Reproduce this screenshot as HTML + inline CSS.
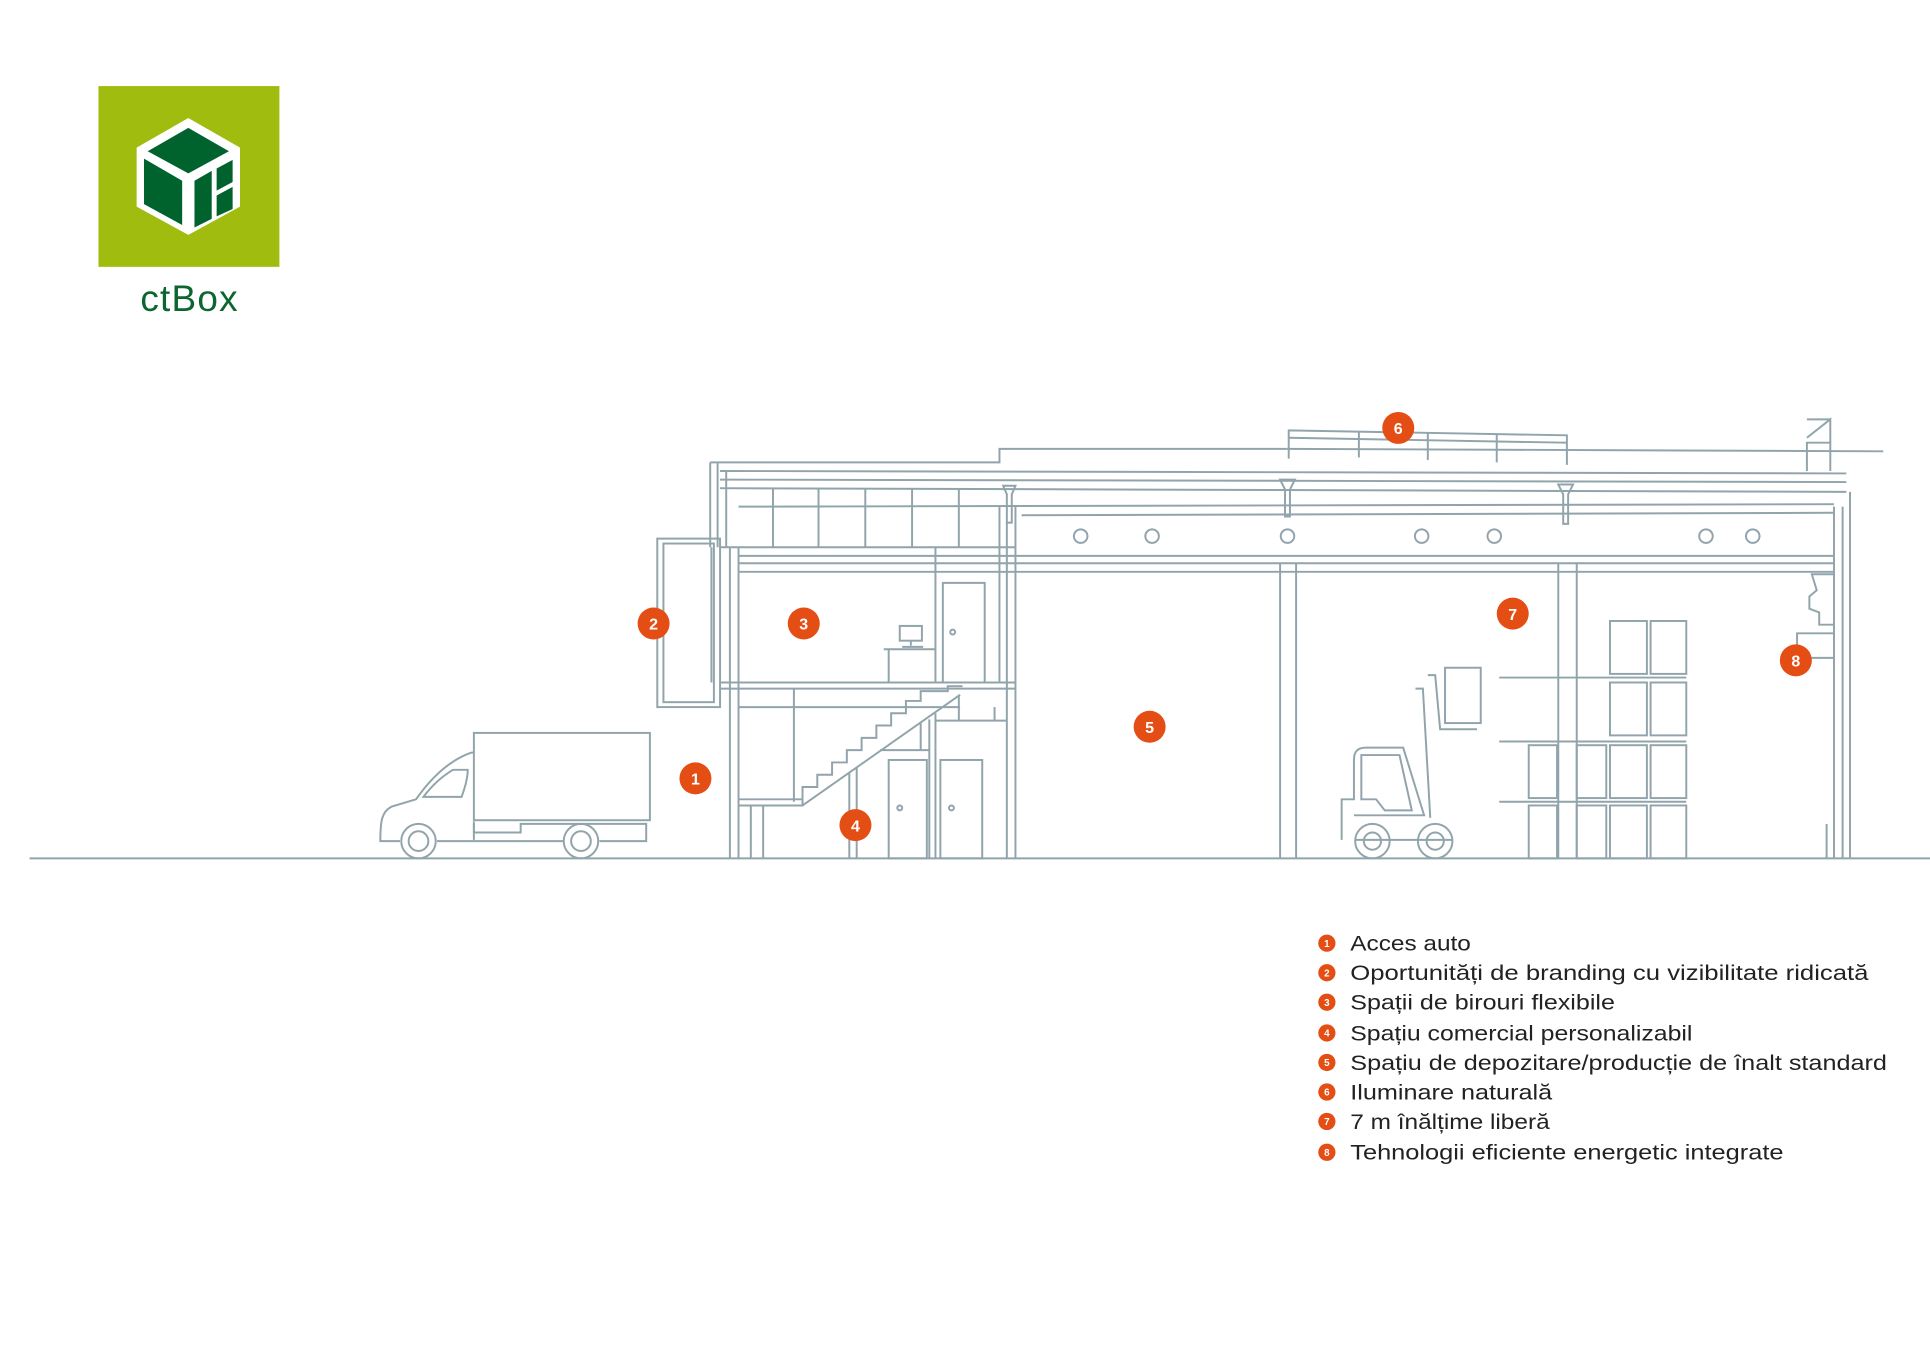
<!DOCTYPE html>
<html><head><meta charset="utf-8"><style>
html,body{margin:0;padding:0;background:#fff;}
svg{display:block;}
</style></head><body>
<svg width="1930" height="1349" viewBox="0 0 1568 1097" preserveAspectRatio="none" xmlns="http://www.w3.org/2000/svg">
<rect width="1568" height="1097" fill="#fff"/>
<!-- logo -->
<rect x="80" y="70" width="147" height="147" fill="#9fbc0f"/>
<polygon points="153,96 195,120 195,168 153,191 111,168 111,120" fill="#fff"/>
<polygon points="153,104 186,123 153,141 120,123" fill="#00632e"/>
<polygon points="117,129 148,147 148,183 117,166" fill="#00632e"/>
<polygon points="158,147 172,139 172,178 158,185" fill="#00632e"/>
<polygon points="176,137 189,130 189,148 176,155" fill="#00632e"/>
<polygon points="176,159 189,152 189,170 176,176" fill="#00632e"/>
<text x="154" y="253" font-family="Liberation Sans, sans-serif" font-size="30" fill="#0d6630" text-anchor="middle" letter-spacing="1">ctBox</text>

<g fill="none" stroke="#91a4ab" stroke-width="1.6">
<!-- ground -->
<line x1="24" y1="698" x2="1568" y2="698"/>
<!-- roof -->
<polyline points="577,376 812,376 812,365 1045,365"/>
<line x1="1045" y1="365" x2="1530" y2="367"/>
<polyline points="1047,373 1047,350 1273,354 1273,378"/>
<line x1="1047" y1="356" x2="1273" y2="360"/>
<line x1="1104" y1="351" x2="1104" y2="372"/><line x1="1160" y1="352" x2="1160" y2="374"/><line x1="1216" y1="353" x2="1216" y2="376"/>
<line x1="585" y1="383" x2="1500" y2="385"/>
<line x1="585" y1="390" x2="1500" y2="392"/>
<line x1="585" y1="397" x2="1500" y2="400"/>
<line x1="600" y1="412" x2="1490" y2="410"/>
<line x1="830" y1="419" x2="1490" y2="417"/>
<line x1="577" y1="376" x2="577" y2="445"/><line x1="583" y1="376" x2="583" y2="445"/>
<line x1="590" y1="383" x2="590" y2="445"/>
<!-- purlins office -->
<line x1="628" y1="397" x2="628" y2="445"/><line x1="665" y1="397" x2="665" y2="445"/><line x1="703" y1="397" x2="703" y2="445"/><line x1="741" y1="397" x2="741" y2="445"/><line x1="779" y1="397" x2="779" y2="445"/>
<!-- hangers -->
<path d="M815,395 L825,395 L822,402 L822,425 L818,425 L818,402 Z"/>
<path d="M1040,390 L1052,390 L1048,398 L1048,420 L1044,420 L1044,398 Z"/>
<path d="M1266,394 L1278,394 L1274,402 L1274,426 L1270,426 L1270,402 Z"/>
<!-- ceiling beams -->
<line x1="585" y1="445" x2="825" y2="445"/>
<line x1="600" y1="452" x2="1490" y2="452"/>
<line x1="600" y1="458" x2="1490" y2="458"/>
<line x1="600" y1="465" x2="1490" y2="465"/>
<!-- skylight circles -->
<circle cx="878" cy="436" r="5.5"/><circle cx="936" cy="436" r="5.5"/><circle cx="1046" cy="436" r="5.5"/><circle cx="1155" cy="436" r="5.5"/><circle cx="1214" cy="436" r="5.5"/><circle cx="1386" cy="436" r="5.5"/><circle cx="1424" cy="436" r="5.5"/>
<!-- chimney -->
<polyline points="1468,383 1468,360 1487,360 1487,383"/>
<polyline points="1468,356 1487,341 1487,360"/>
<line x1="1468" y1="341" x2="1487" y2="341"/>
<!-- columns -->
<line x1="593" y1="445" x2="593" y2="698"/><line x1="600" y1="445" x2="600" y2="698"/>
<line x1="812" y1="412" x2="812" y2="555"/><line x1="818" y1="425" x2="818" y2="698"/><line x1="825" y1="412" x2="825" y2="698"/>
<line x1="1040" y1="458" x2="1040" y2="698"/><line x1="1053" y1="458" x2="1053" y2="698"/>
<line x1="1266" y1="458" x2="1266" y2="698"/><line x1="1281" y1="458" x2="1281" y2="698"/>
<line x1="1490" y1="412" x2="1490" y2="698"/><line x1="1497" y1="412" x2="1497" y2="698"/><line x1="1503" y1="400" x2="1503" y2="698"/>
<line x1="1484" y1="670" x2="1484" y2="698"/>
<!-- branding panel -->
<rect x="534" y="438" width="51" height="137"/>
<rect x="539" y="442" width="41" height="129"/>
<line x1="578" y1="445" x2="578" y2="555"/>
<!-- mezzanine -->
<line x1="585" y1="555" x2="825" y2="555"/>
<line x1="585" y1="560" x2="825" y2="560"/>
<line x1="600" y1="575" x2="780" y2="575"/>
<line x1="645" y1="560" x2="645" y2="652"/>
<line x1="760" y1="445" x2="760" y2="555"/>
<!-- door office -->
<rect x="766" y="474" width="34" height="81"/>
<circle cx="774" cy="514" r="2"/>
<!-- desk -->
<rect x="731" y="509" width="18" height="12"/>
<line x1="740" y1="521" x2="740" y2="525"/>
<line x1="733" y1="526" x2="750" y2="526"/>
<polyline points="718,528 760,528"/>
<line x1="722" y1="528" x2="722" y2="555"/>
<!-- stairs -->
<polyline points="600,650 652,650 652,655 600,655"/>
<line x1="652" y1="655" x2="780" y2="565"/>
<polyline points="652,650 652,640 664,640 664,630 676,630 676,620 688,620 688,610 700,610 700,600 712,600 712,590 724,590 724,580 736,580 736,570 748,570 748,562 770,562 770,558 782,558"/>
<line x1="610" y1="655" x2="610" y2="698"/><line x1="620" y1="655" x2="620" y2="698"/>
<!-- lower rooms -->
<line x1="690" y1="628" x2="690" y2="698"/><line x1="696" y1="624" x2="696" y2="698"/>
<line x1="755" y1="585" x2="755" y2="698"/><line x1="760" y1="580" x2="760" y2="698"/>
<line x1="715" y1="610" x2="755" y2="610"/>
<line x1="760" y1="586" x2="818" y2="586"/>
<line x1="748" y1="588" x2="748" y2="610"/>
<line x1="779" y1="565" x2="779" y2="586"/><line x1="808" y1="575" x2="808" y2="586"/>
<rect x="722" y="618" width="31" height="80"/><circle cx="731" cy="657" r="2"/>
<rect x="764" y="618" width="34" height="80"/><circle cx="773" cy="657" r="2"/>
<!-- HVAC right -->
<polyline points="1490,467 1472,467 1476,480 1470,485 1470,495 1478,498 1478,508 1490,508"/>
<polyline points="1490,515 1460,515 1460,535 1490,535"/>
<!-- truck -->
<rect x="385" y="596" width="143" height="71"/>
<path d="M385,612 L383,612 C360,620 345,640 338,650 L318,656 C310,660 309,668 309,684 L325,684 M355,684 L458,684 M487,684 L525,684 L525,670 L423,670 L423,677 L385,677 L385,668"/>
<path d="M380,626 L368,626 C358,632 350,640 344,648 L375,648 C378,640 380,632 380,626 Z"/>
<line x1="385" y1="683" x2="385" y2="670"/>
<circle cx="340" cy="684" r="14"/><circle cx="340" cy="684" r="8"/>
<circle cx="472" cy="684" r="14"/><circle cx="472" cy="684" r="8"/>
<!-- forklift -->
<path d="M1090,683 L1090,650 L1100,650 L1100,618 C1100,611 1103,608 1110,608 L1140,608 L1157,663 L1100,663"/>
<path d="M1106,614 L1137,614 L1147,659 L1125,659 L1118,650 L1106,650 Z"/>
<line x1="1101" y1="683" x2="1180" y2="683"/>
<polyline points="1150,560 1156,560 1162,665"/>
<polyline points="1160,549 1166,549 1170,593 1200,593"/>
<rect x="1174" y="543" width="29" height="45"/>
<circle cx="1115" cy="684" r="14"/><circle cx="1115" cy="684" r="7"/>
<circle cx="1166" cy="684" r="14"/><circle cx="1166" cy="684" r="7"/>
<!-- racks -->
<line x1="1218" y1="551" x2="1370" y2="551"/>
<line x1="1218" y1="603" x2="1370" y2="603"/>
<line x1="1218" y1="652" x2="1370" y2="652"/>
<rect x="1308" y="505" width="30" height="43"/><rect x="1341" y="505" width="29" height="43"/>
<rect x="1308" y="555" width="30" height="43"/><rect x="1341" y="555" width="29" height="43"/>
<rect x="1242" y="606" width="23" height="43"/><rect x="1281" y="606" width="24" height="43"/><rect x="1308" y="606" width="30" height="43"/><rect x="1341" y="606" width="29" height="43"/>
<rect x="1242" y="655" width="23" height="43"/><rect x="1281" y="655" width="24" height="43"/><rect x="1308" y="655" width="30" height="43"/><rect x="1341" y="655" width="29" height="43"/>
</g>

<!-- badges -->
<g font-family="Liberation Sans, sans-serif" font-weight="bold" font-size="13" fill="#fff" text-anchor="middle">
<circle cx="565" cy="633" r="13" fill="#e44d14"/><text x="565" y="638">1</text>
<circle cx="531" cy="507" r="13" fill="#e44d14"/><text x="531" y="512">2</text>
<circle cx="653" cy="507" r="13" fill="#e44d14"/><text x="653" y="512">3</text>
<circle cx="695" cy="671" r="13" fill="#e44d14"/><text x="695" y="676">4</text>
<circle cx="934" cy="591" r="13" fill="#e44d14"/><text x="934" y="596">5</text>
<circle cx="1136" cy="348" r="13" fill="#e44d14"/><text x="1136" y="353">6</text>
<circle cx="1229" cy="499" r="13" fill="#e44d14"/><text x="1229" y="504">7</text>
<circle cx="1459" cy="537" r="13" fill="#e44d14"/><text x="1459" y="542">8</text>
</g>

<!-- legend -->
<g font-family="Liberation Sans, sans-serif">
<g fill="#e44d14">
<circle cx="1078" cy="767" r="7"/><circle cx="1078" cy="791" r="7"/><circle cx="1078" cy="815" r="7"/><circle cx="1078" cy="840" r="7"/><circle cx="1078" cy="864" r="7"/><circle cx="1078" cy="888" r="7"/><circle cx="1078" cy="912" r="7"/><circle cx="1078" cy="937" r="7"/>
</g>
<g fill="#fff" font-size="8" font-weight="bold" text-anchor="middle">
<text x="1078" y="770">1</text><text x="1078" y="794">2</text><text x="1078" y="818">3</text><text x="1078" y="843">4</text><text x="1078" y="867">5</text><text x="1078" y="891">6</text><text x="1078" y="915">7</text><text x="1078" y="940">8</text>
</g>
<g fill="#222" font-size="17">
<text x="1097" y="773" textLength="98" lengthAdjust="spacingAndGlyphs">Acces auto</text>
<text x="1097" y="797" textLength="421" lengthAdjust="spacingAndGlyphs">Oportunități de branding cu vizibilitate ridicată</text>
<text x="1097" y="821" textLength="215" lengthAdjust="spacingAndGlyphs">Spații de birouri flexibile</text>
<text x="1097" y="846" textLength="278" lengthAdjust="spacingAndGlyphs">Spațiu comercial personalizabil</text>
<text x="1097" y="870" textLength="436" lengthAdjust="spacingAndGlyphs">Spațiu de depozitare/producție de înalt standard</text>
<text x="1097" y="894" textLength="164" lengthAdjust="spacingAndGlyphs">Iluminare naturală</text>
<text x="1097" y="918" textLength="162" lengthAdjust="spacingAndGlyphs">7 m înălțime liberă</text>
<text x="1097" y="943" textLength="352" lengthAdjust="spacingAndGlyphs">Tehnologii eficiente energetic integrate</text>
</g>
</g>
</svg>
</body></html>
